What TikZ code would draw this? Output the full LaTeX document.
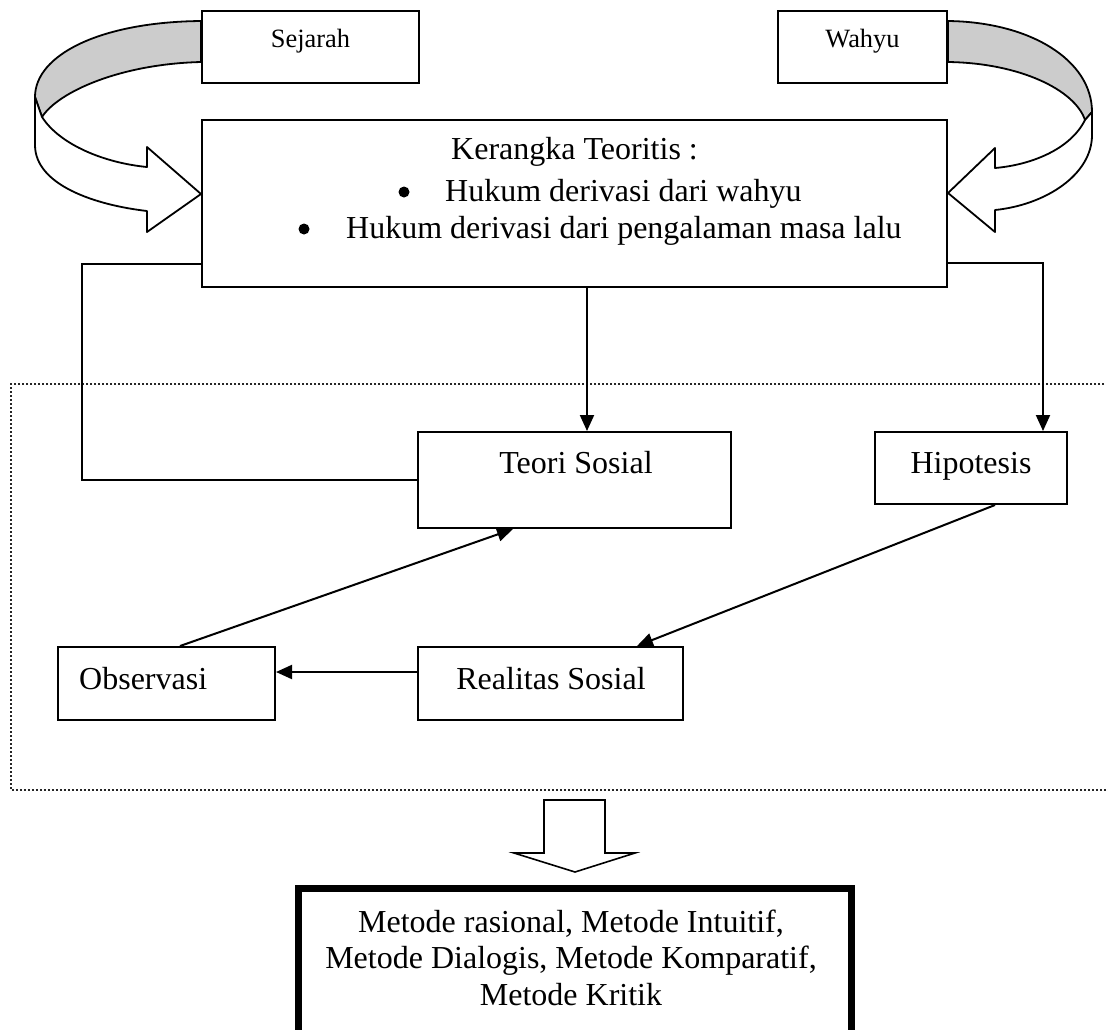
\documentclass[tikz,border=0pt]{standalone}
\usepackage{fontspec}
\setmainfont{Liberation Serif}
\usetikzlibrary{arrows.meta}
\tikzset{
  box/.style={draw, line width=2pt, inner sep=0pt, rectangle},
  conn/.style={line width=2pt},
  arr/.style={line width=2pt, -{Triangle[length=16pt,width=14pt]}},
  big/.style={font=\fontsize{32}{38}\selectfont, inner sep=0pt},
  small/.style={font=\fontsize{26.4}{30}\selectfont, inner sep=0pt},
  ribbon/.style={draw, line width=1.8pt, line join=round},
  dotline/.style={line width=1.6pt, dash pattern=on 1.8pt off 2.2pt, black!85},
  bul/.style={circle, fill, inner sep=0pt, minimum size=11pt}
}
\begin{document}
\begin{tikzpicture}[x=1pt,y=-1pt]
\useasboundingbox (0,0) rectangle (1106,1029);
\fill[white] (0,0) rectangle (1106,1029);

% dotted frame (right side off picture)
\draw[dotline] (1112,384) -- (11,384) -- (11,790) -- (1112,790);

% boxes
\node[box, minimum width=217pt, minimum height=72pt] (sej) at (310.5,47) {};
\node[box, minimum width=169pt, minimum height=72pt] (wah) at (862.5,47) {};
\node[box, minimum width=745pt, minimum height=167pt] (ker) at (574.5,203.5) {};
\node[box, minimum width=313pt, minimum height=96pt] (teori) at (574.5,480) {};
\node[box, minimum width=192pt, minimum height=72pt] (hip) at (971,468) {};
\node[box, minimum width=265pt, minimum height=73pt] (real) at (550.5,683.5) {};
\node[box, minimum width=217pt, minimum height=73pt] (obs) at (166.5,683.5) {};
\node[draw, line width=7pt, inner sep=0pt, minimum width=552.5pt, minimum height=151pt] (met) at (574.75,964) {};

% texts
\node[small, anchor=base] (tsej) at (310.5,47) {Sejarah};
\node[small, anchor=base] (twah) at (862.5,47) {Wahyu};
\node[big, anchor=base] (tker) at (574.5,159) {Kerangka Teoritis :};
\node[bul] (b1) at (404,192) {};
\node[big, anchor=base west] (tk1) at (445,201) {Hukum derivasi dari wahyu};
\node[bul] (b2) at (304,229) {};
\node[big, anchor=base west] (tk2) at (346,238) {Hukum derivasi dari pengalaman masa lalu};
\node[big, anchor=base] (tteori) at (576,473) {Teori Sosial};
\node[big, anchor=base] (thip) at (971,473) {Hipotesis};
\node[big, anchor=base] (treal) at (551,689) {Realitas Sosial};
\node[big, anchor=base west] (tobs) at (79,689) {Observasi};
\node[big, anchor=base] (tm1) at (571,932) {Metode rasional, Metode Intuitif,};
\node[big, anchor=base] (tm2) at (571,968) {Metode Dialogis, Metode Komparatif,};
\node[big, anchor=base] (tm3) at (571,1005) {Metode Kritik};

% helper coordinates
\coordinate (cA) at (587,0);
\coordinate (L1) at (82,264);
\coordinate (R1) at (1043,263);
\coordinate (h1) at (995,0);
\coordinate (r1) at (637,0);
\coordinate (o1) at (180,0);
\coordinate (t1) at (513,0);
\coordinate (y1) at (0,672);

% connectors
\draw[arr] (ker.south -| cA) -- (teori.north -| cA);
\draw[conn] (ker.west |- L1) -- (L1) -- (L1 |- teori.west) -- (teori.west);
\draw[arr] (ker.east |- R1) -- (R1) -- (R1 |- hip.north);
\draw[arr] (hip.south -| h1) -- (real.north -| r1);
\draw[arr] (obs.north -| o1) -- (teori.south -| t1);
\draw[arr] (real.west |- y1) -- (obs.east |- y1);

% hollow down arrow
\draw[line width=1.6pt, line join=miter] (544,800) -- (605,800) -- (605,853) -- (635,853) -- (575,872) -- (514,853) -- (544,853) -- cycle;

% left curved ribbon arrow (Sejarah -> Kerangka)
\draw[ribbon, fill=black!20] (sej.west |- 0,21) .. controls (100,22) and (35,55) .. (35,97) -- (42,117) .. controls (58,92) and (120,64) .. (sej.west |- 0,62) -- cycle;
\draw[ribbon, fill=white] (42,117) .. controls (60,145) and (105,163) .. (147,167) -- (147,147) -- (ker.west |- 0,194) -- (147,232) -- (147,211) .. controls (95,205) and (35,185) .. (35,145) -- (35,97) -- cycle;

% right curved ribbon arrow (Wahyu -> Kerangka)
\draw[ribbon, fill=black!20] (wah.east |- 0,21) .. controls (1030,22) and (1092,60) .. (1092,112) -- (1085,120) .. controls (1075,90) and (1020,63) .. (wah.east |- 0,62) -- cycle;
\draw[ribbon, fill=white] (1085,120) .. controls (1070,150) and (1030,165) .. (995,168) -- (995,148) -- (ker.east |- 0,193) -- (995,232) -- (995,210) .. controls (1045,205) and (1092,175) .. (1092,135) -- (1092,112) -- cycle;
\end{tikzpicture}
\end{document}
